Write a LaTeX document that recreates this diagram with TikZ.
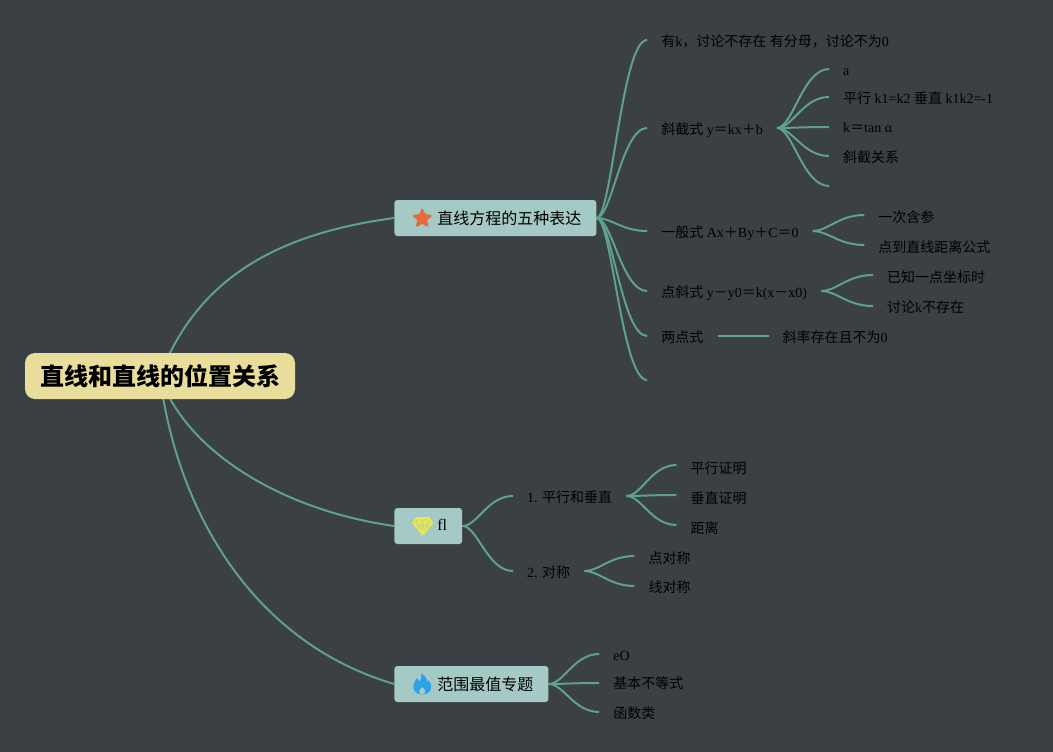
\documentclass[tikz,border=0pt]{standalone}
\usepackage{fontspec}
\setmainfont{Liberation Serif}
\newfontfamily\cjk{Noto Sans CJK SC}
\usetikzlibrary{positioning,calc,backgrounds,shapes.geometric}
\definecolor{bgc}{HTML}{3A4043}
\definecolor{linkc}{HTML}{5FA08F}
\definecolor{rootc}{HTML}{E8DD9B}
\definecolor{mainc}{HTML}{A5C9C4}
\definecolor{starc}{HTML}{E8693A}
\definecolor{gemc}{HTML}{EFE84A}
\definecolor{flamec}{HTML}{2BA2E6}
\tikzset{
	root node/.style={rounded corners=10pt,fill=rootc,text=black,minimum height=46pt,minimum width=270pt,inner xsep=0pt,inner ysep=0pt,font=\cjk\bfseries\fontsize{24}{26}\selectfont},
	main node/.style={rounded corners=3pt,fill=mainc,text=black,minimum height=36pt,inner xsep=15pt,inner ysep=0pt,font=\fontsize{16}{18}\selectfont},
	leaf/.style={text=black,inner xsep=14pt,inner ysep=0pt,text height=13pt,text depth=1pt,font=\fontsize{14}{16}\selectfont},
	low/.style={text height=15pt},
	lower/.style={text height=17pt},
	high/.style={text height=11pt},
	fan/.style={to path={let \p1=(\tikztostart),\p2=(\tikztotarget) in .. controls (0.7*\x1+0.3*\x2,\y1) and (0.5*\x1+0.5*\x2,\y2) .. (\p2)}},
	every edge/.style={draw=linkc,line width=2pt}
}
\begin{document}
\begin{tikzpicture}[x=1pt,y=-1pt]
	\useasboundingbox (0,0) rectangle (1053,752);

	\node[root node] (root) at (160,376) {\hspace*{1pt}\raisebox{-1pt}{直线和直线的位置关系}};
	\node[main node] (a1) [right=99pt of root.east, anchor=west, yshift=158pt] {\hspace*{28pt}\raisebox{-1pt}{\cjk 直线方程的五种表达}};
	\node[main node] (a2) [below=308pt of a1.west, anchor=west] {\hspace*{28pt}\raisebox{3pt}{fl}};
	\node[main node] (a3) [below=158pt of a2.west, anchor=west] {\hspace*{28pt}\raisebox{-1pt}{\cjk 范围最值专题}};

	% icons
	\node[star,star points=5,star point ratio=2.2,fill=starc,draw=starc,line width=1pt,rounded corners=1pt,inner sep=0pt,minimum size=20pt] (icon1) at ([xshift=28pt,yshift=-.5pt]a1.west) {};
	\coordinate (icon2) at ([xshift=28.5pt]a2.west);
	\coordinate (icon3) at ([xshift=28pt]a3.west);
	\begin{scope}[shift={(icon2)},draw=gemc,line width=1.8pt,line join=round]
		\draw[fill=gemc,fill opacity=.45] (-6,-8) -- (6,-8) -- (9.5,-3) -- (0,8.5) -- (-9.5,-3) -- cycle;
		\draw[line width=1.2pt] (-9.5,-3) -- (9.5,-3) (-6,-8) -- (-3,-3) -- (0,8.5) -- (3,-3) -- (6,-8) (-3,-3) -- (0,-8) -- (3,-3);
	\end{scope}
	\begin{scope}[shift={(icon3)}]
		\fill[flamec] (0,10.5) .. controls (-6,10.5) and (-9,6.5) .. (-9,2.5) .. controls (-9,-1) and (-6.5,-3) .. (-5.5,-6) .. controls (-4,-5) and (-3.5,-3.5) .. (-3,-2) .. controls (-1,-5) and (0,-8) .. (-1,-10.5) .. controls (4,-8) and (5,-4) .. (5,-1.5) .. controls (6,-2) and (6.5,-3) .. (6.5,-4) .. controls (8.5,-1.5) and (9,1) .. (9,3) .. controls (9,7) and (6,10.5) .. (0,10.5) -- cycle;
		\fill[mainc] (0,10.5) .. controls (-2.5,10) and (-3.5,8.5) .. (-3,7) .. controls (-2.5,5.5) and (-1,4.5) .. (0,3) .. controls (1.5,4.5) and (3,5.5) .. (3,7.5) .. controls (3,9) and (2,10) .. (0,10.5) -- cycle;
	\end{scope}

	% first branch
	\node[leaf,low] (b1) [right=50.5pt of a1.east, anchor=west, yshift=178pt] {{\cjk 有}k{\cjk ，讨论不存在} {\cjk 有分母，讨论不为}0};
	\node[leaf] (b2) [below=88pt of b1.west, anchor=west] {{\cjk 斜截式} y{\cjk ＝}kx{\cjk ＋}b};
	\node[leaf] (b3) [below=103pt of b2.west, anchor=west] {{\cjk 一般式} Ax{\cjk ＋}By{\cjk ＋}C{\cjk ＝}0};
	\node[leaf] (b4) [below=60pt of b3.west, anchor=west] {{\cjk 点斜式} y{\cjk －}y0{\cjk ＝}k(x{\cjk －}x0)};
	\node[leaf] (b5) [below=45pt of b4.west, anchor=west] {{\cjk 两点式}};
	\coordinate[below=44pt of b5.west] (b6);

	\node[leaf,low] (c1) [right=52pt of b2.east, anchor=west, yshift=59pt] {a};
	\node[leaf] (c2) [below=28pt of c1.west, anchor=west] {{\cjk 平行} k1=k2 {\cjk 垂直} k1k2=-1};
	\node[leaf,high] (c3) [below=30pt of c2.west, anchor=west] {k{\cjk ＝}tan α};
	\node[leaf] (c4) [below=29pt of c3.west, anchor=west] {{\cjk 斜截关系}};
	\coordinate[below=30pt of c4.west] (c5);

	\node[leaf,low] (d1) [right=51.5pt of b3.east, anchor=west, yshift=16pt] {{\cjk 一次含参}};
	\node[leaf,low] (d2) [below=30pt of d1.west, anchor=west] {{\cjk 点到直线距离公式}};
	\node[leaf,low] (e1) [right=51.5pt of b4.east, anchor=west, yshift=16pt] {{\cjk 已知一点坐标时}};
	\node[leaf] (e2) [below=31pt of e1.west, anchor=west] {{\cjk 讨论}k{\cjk 不存在}};
	\node[leaf] (f1) [right=51pt of b5.east, anchor=west] {{\cjk 斜率存在且不为}0};

	% second branch
	\node[leaf] (g1) [right=50.5pt of a2.east, anchor=west, yshift=30pt] {1. {\cjk 平行和垂直}};
	\node[leaf] (g2) [below=75pt of g1.west, anchor=west] {2. {\cjk 对称}};
	\node[leaf,lower] (h1) [right=50pt of g1.east, anchor=west, yshift=31pt] {{\cjk 平行证明}};
	\node[leaf,lower] (h2) [below=30pt of h1.west, anchor=west] {{\cjk 垂直证明}};
	\node[leaf,lower] (h3) [below=30pt of h2.west, anchor=west] {{\cjk 距离}};
	\node[leaf,low] (i1) [right=50pt of g2.east, anchor=west, yshift=15pt] {{\cjk 点对称}};
	\node[leaf] (i2) [below=30pt of i1.west, anchor=west] {{\cjk 线对称}};

	% third branch
	\node[leaf] (j1) [right=50.5pt of a3.east, anchor=west, yshift=30pt] {eO};
	\node[leaf,high] (j2) [below=29pt of j1.west, anchor=west] {{\cjk 基本不等式}};
	\node[leaf] (j3) [below=29pt of j2.west, anchor=west] {{\cjk 函数类}};

	\begin{scope}[on background layer]
		\fill[bgc] (0,0) rectangle (1053,752);
		\draw[linkc,line width=2pt] (root.center) .. controls +(40,-106) and +(-104,14) .. (a1.west);
		\draw[linkc,line width=2pt] (root.center) .. controls +(25,74) and +(-114,-16) .. (a2.west);
		\draw[linkc,line width=2pt] (root.center) .. controls +(15,124) and +(-149,-44) .. (a3.west);
		\path (a1.east) edge[fan] (b1.west)
				edge[fan] (b2.west)
				edge[fan] (b3.west)
				edge[fan] (b4.west)
				edge[fan] (b5.west)
				edge[fan] (b6)
			(b2.east) edge[fan] (c1.west)
				edge[fan] (c2.west)
				edge[fan] (c3.west)
				edge[fan] (c4.west)
				edge[fan] (c5)
			(b3.east) edge[fan] (d1.west)
				edge[fan] (d2.west)
			(b4.east) edge[fan] (e1.west)
				edge[fan] (e2.west)
			(b5.east) edge (f1.west)
			(a2.east) edge[fan] (g1.west)
				edge[fan] (g2.west)
			(g1.east) edge[fan] (h1.west)
				edge[fan] (h2.west)
				edge[fan] (h3.west)
			(g2.east) edge[fan] (i1.west)
				edge[fan] (i2.west)
			(a3.east) edge[fan] (j1.west)
				edge[fan] (j2.west)
				edge[fan] (j3.west);
	\end{scope}
\end{tikzpicture}
\end{document}
